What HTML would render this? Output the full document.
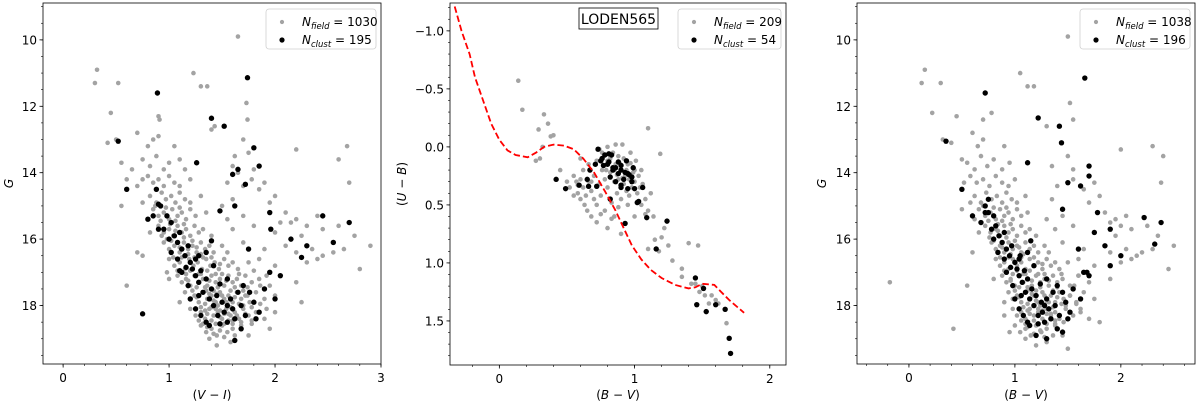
<!DOCTYPE html>
<html><head><meta charset="utf-8"><style>
body{margin:0;background:#fff;}
svg{display:block;font-family:"DejaVu Sans","Liberation Sans",sans-serif;}
</style></head><body>
<svg id="fig" width="1200" height="404" viewBox="0 0 1200 404"></svg>
<script>
// ---------- Panel 1 data: (V-I, G) ----------
const p1Field = [[0.3,11.3],[0.32,10.9],[0.52,11.3],[0.45,12.2],[0.9,12.3],[0.91,12.4],[1.23,11.0],[1.3,11.4],[1.36,11.4],[1.65,9.9],[1.73,11.9],[1.74,12.4],[1.4,12.7],[1.43,12.6],[0.42,13.1],[0.5,13.0],[0.55,13.7],[0.7,12.8],[0.8,13.2],[0.85,13.0],[0.9,12.9],[1.05,13.2],[1.7,13.0],[1.75,13.4],[2.2,13.3],[2.68,13.2],[2.6,13.6],[2.7,14.3],[0.6,14.2],
[0.75,13.6],[0.82,13.8],[0.88,13.5],[0.95,13.9],[1.0,13.7],[1.1,13.6],[1.15,13.9],[0.65,13.9],[1.6,13.8],[1.62,13.5],[1.8,13.9],[1.65,14.0],
[0.8,14.1],[0.85,14.3],[0.9,14.2],[0.95,14.4],[1.0,14.1],[1.05,14.3],[1.1,14.4],[0.7,14.4],[0.75,14.2],[1.2,14.2],[1.55,14.3],[1.7,14.4],[1.85,14.5],[1.9,14.3],[1.78,14.2],
[0.82,14.7],[0.88,14.9],[0.93,14.6],[0.97,14.8],[1.02,14.7],[1.06,14.9],[1.1,14.6],[1.15,14.8],[1.2,14.9],[0.75,14.9],[1.3,14.7],[1.6,14.8],[1.95,14.9],[2.0,14.7],[1.5,15.0],
[0.85,15.1],[0.9,15.3],[0.95,15.2],[1.0,15.4],[1.03,15.1],[1.08,15.3],[1.12,15.2],[1.16,15.4],[1.2,15.1],[1.25,15.3],[0.8,15.4],[1.35,15.2],[1.55,15.4],[1.7,15.3],[2.1,15.2],[2.15,15.5],[2.2,15.4],[2.05,15.5],[2.4,15.3],
[0.9,15.6],[0.95,15.8],[1.0,15.7],[1.04,15.9],[1.08,15.6],[1.12,15.8],[1.16,15.7],[1.2,15.9],[1.24,15.6],[1.28,15.8],[1.32,15.7],[1.4,15.9],[0.82,15.8],[1.6,15.7],[1.8,15.6],[2.0,15.8],[2.25,15.9],[2.3,15.6],[2.45,15.7],[2.6,15.6],[2.75,15.9],
[0.95,16.1],[1.0,16.3],[1.05,16.2],[1.1,16.4],[1.14,16.1],[1.18,16.3],[1.22,16.2],[1.26,16.4],[1.3,16.1],[1.34,16.3],[1.38,16.2],[1.42,16.4],[1.5,16.2],[1.55,16.4],[0.7,16.4],[1.7,16.1],[1.9,16.3],[2.1,16.2],[2.2,16.4],[2.35,16.3],[2.45,16.5],[2.55,16.4],[2.65,16.3],[2.9,16.2],
[1.0,16.6],[1.05,16.8],[1.1,16.7],[1.15,16.9],[1.19,16.6],[1.23,16.8],[1.27,16.7],[1.31,16.9],[1.35,16.6],[1.39,16.8],[1.43,16.7],[1.47,16.9],[1.52,16.6],[1.56,16.8],[1.6,16.7],[1.65,16.9],[1.75,16.7],[1.85,16.6],[2.0,16.8],[2.3,16.7],[2.4,16.6],[2.8,16.9],
[1.08,17.1],[1.12,17.3],[1.16,17.2],[1.2,17.4],[1.24,17.1],[1.28,17.3],[1.32,17.2],[1.36,17.4],[1.4,17.1],[1.44,17.3],[1.48,17.2],[1.52,17.4],[1.56,17.1],[1.6,17.3],[1.64,17.2],[1.68,17.4],[1.72,17.1],[1.78,17.3],[1.85,17.2],[1.95,17.4],[2.05,17.1],[2.2,17.3],[1.0,17.2],
[1.15,17.6],[1.2,17.8],[1.24,17.7],[1.28,17.9],[1.32,17.6],[1.36,17.8],[1.4,17.7],[1.44,17.9],[1.48,17.6],[1.52,17.8],[1.56,17.7],[1.6,17.9],[1.64,17.6],[1.68,17.8],[1.72,17.7],[1.76,17.9],[1.82,17.6],[1.9,17.8],[2.0,17.7],[1.1,17.9],[1.35,17.55],[1.45,17.65],[1.55,17.95],
[1.2,18.1],[1.25,18.3],[1.3,18.2],[1.34,18.4],[1.38,18.1],[1.42,18.3],[1.46,18.2],[1.5,18.4],[1.54,18.1],[1.58,18.3],[1.62,18.2],[1.66,18.4],[1.7,18.1],[1.75,18.3],[1.82,18.2],[1.9,18.4],[2.25,17.9],[2.0,18.2],[1.4,18.05],[1.48,18.35],[1.56,18.45],
[1.3,18.6],[1.35,18.8],[1.4,18.7],[1.45,18.9],[1.5,18.6],[1.55,18.8],[1.6,18.7],[1.68,18.6],[1.38,19.0],[1.45,19.2],[1.58,19.1],[1.75,18.9],[1.95,18.7],[1.78,18.55],
[0.6,17.4],[0.75,16.5],[0.98,17.0],[0.55,15.0],
[0.87,15.0],[0.92,15.45],[0.97,15.05],[1.01,15.55],[1.06,15.45],[1.1,15.05],[1.14,15.55],[0.93,15.9],[0.98,16.0],[1.02,16.05],[1.06,15.75],[1.1,16.25],[1.14,15.95],[1.18,16.45],[1.22,16.05],[1.26,16.25],[1.3,16.45],[1.04,16.55],[1.08,16.95],[1.12,16.55],[1.16,17.05],[1.2,16.95],[1.24,16.55],[1.28,17.05],[1.32,16.55],[1.36,16.95],[1.4,16.55],[1.44,17.05],[1.48,16.75],
[1.18,17.25],[1.22,17.55],[1.26,17.45],[1.3,17.05],[1.34,17.45],[1.38,17.25],[1.42,17.55],[1.46,17.45],[1.5,17.05],[1.54,17.25],[1.58,17.55],[1.62,17.45],[1.66,17.05],[1.7,17.55],[1.74,17.45],[1.26,17.75],[1.3,18.05],[1.34,17.95],[1.38,17.65],[1.42,17.85],[1.46,18.0],[1.5,17.7],[1.54,17.9],[1.58,18.05],[1.62,17.75],[1.66,17.95],[1.7,18.0],[1.74,17.7],[1.78,18.05],
[1.28,18.45],[1.32,18.55],[1.36,18.25],[1.4,18.45],[1.44,18.55],[1.48,18.15],[1.52,18.55],[1.56,18.25],[1.6,18.55],[1.64,18.3],[1.68,18.5],[1.72,18.25],[1.78,18.45],[1.36,18.65],[1.42,18.85],[1.48,18.75],[1.52,18.95],[1.62,18.9],[1.34,18.15],[1.44,18.1],[1.52,18.25],[1.6,18.45],[1.86,17.95],[1.92,18.1],[1.86,17.4],[1.92,17.1],[1.8,16.95]];
const p1Clust = [[0.89,11.6],[1.74,11.14],[1.40,12.36],[1.52,12.6],[0.52,13.05],[1.26,13.7],[0.6,14.5],[0.85,15.3],[0.88,14.5],[1.72,14.35],[1.6,14.05],[1.85,13.8],[1.8,13.25],[1.65,13.9],[1.95,15.2],[2.45,15.3],[2.7,15.5],[2.55,16.1],[2.15,16.0],[2.3,16.2],[2.25,16.55],[1.96,15.7],[0.75,18.25],[1.62,15.0],[1.48,15.15],[1.75,16.3],
[0.9,14.95],[0.92,15.0],[0.98,15.3],[1.02,15.5],[1.05,15.9],[1.0,16.0],[1.08,16.1],[1.1,15.8],[1.12,16.3],[1.15,16.5],[1.18,16.2],[1.2,16.7],[1.22,16.9],[1.25,16.6],[1.25,17.1],[1.28,17.3],[1.3,16.95],[1.32,17.6],[1.35,17.2],[1.38,17.8],[1.4,17.5],[1.42,18.0],[1.45,17.7],[1.46,18.3],[1.5,17.9],[1.52,18.2],[1.55,18.5],[1.58,17.8],[1.6,18.1],[1.62,18.4],[1.65,17.6],[1.68,18.0],[1.7,17.4],[1.72,18.3],[1.76,17.6],[1.8,17.9],[1.85,18.2],[1.3,18.3],[1.35,18.5],[1.25,18.1],[1.2,17.8],[1.18,17.4],[1.38,18.6],[1.48,18.55],[1.55,18.0],[1.62,19.05],[1.68,18.7],[1.16,16.85],[1.08,16.6],[1.02,16.4],[0.95,15.7],[1.35,16.4],[1.42,16.8],[1.55,17.2],[1.9,17.5],[2.0,17.8],[1.82,18.4],[1.28,16.5],[1.4,16.05],[1.12,17.0],[1.28,17.7],[1.48,17.35],[1.95,17.0],[2.05,17.1],[1.1,16.95],[0.8,15.4],[0.9,15.7]];

// ---------- Panel 2 data: (B-V, U-B) ----------
const p2Field = [[0.14,-0.57],[0.17,-0.32],[0.33,-0.28],[0.36,-0.2],[0.29,-0.15],[0.38,-0.09],[0.32,0.0],[0.3,0.1],[1.1,-0.16],[1.19,0.06],[0.91,-0.02],[0.4,-0.1],[0.27,0.12],
[0.55,0.25],[0.57,0.3],[0.6,0.28],[0.62,0.35],[0.58,0.4],[0.6,0.45],[0.63,0.5],[0.66,0.3],[0.68,0.38],[0.7,0.25],[0.7,0.45],[0.72,0.5],[0.74,0.32],[0.75,0.42],[0.76,0.2],[0.78,0.28],[0.78,0.55],[0.8,0.35],[0.8,0.12],[0.82,0.22],[0.83,0.48],[0.84,0.05],[0.85,0.3],[0.86,0.15],[0.87,0.4],[0.88,0.08],[0.88,0.28],[0.9,0.2],[0.9,0.45],[0.92,0.1],[0.92,0.32],[0.93,0.25],[0.94,0.38],[0.95,0.15],[0.96,0.28],[0.97,0.05],[0.98,0.35],[0.99,0.22],[1.0,0.3],[1.01,0.12],[1.02,0.4],[1.03,0.25],[1.05,0.2],[1.06,0.32],[1.08,0.45],[1.1,0.55],[1.12,0.4],[1.14,0.6],[0.65,0.55],[0.68,0.6],[0.72,0.65],[0.75,0.58],[0.8,0.7],[0.85,0.6],[0.9,0.75],[0.95,0.5],[1.0,0.6],[0.52,0.35],[0.55,0.42],[0.5,0.3],[0.62,0.2],[0.66,0.15],[0.72,0.12],[0.76,0.05],[0.74,0.02],[0.8,0.0],[0.86,-0.02],[0.83,0.62],[0.88,0.52],[1.05,0.5],[1.08,0.58],
[1.15,0.8],[1.2,0.78],[1.18,0.9],[1.1,0.88],[1.28,0.98],[1.35,1.05],[1.4,0.83],[1.47,0.85],[1.35,1.12],[1.42,1.18],[1.48,1.25],[1.52,1.28],[1.57,1.28],[1.6,1.32],[1.5,1.2],[1.45,1.18],[1.55,1.35],[1.62,1.35],[1.68,1.52],[0.45,0.2],[0.6,0.1],[1.22,0.7],[1.25,0.85],
[0.82,0.1],[0.85,0.2],[0.89,0.14],[0.91,0.27],[0.94,0.2],[0.97,0.14],[1.0,0.2],[0.87,0.24],[0.79,0.2],[0.96,0.42],[1.04,0.35],[0.68,0.3],[0.64,0.42],[0.58,0.33]];
const p2Clust = [[0.42,0.28],[0.49,0.36],[0.59,0.33],[0.65,0.28],[0.66,0.34],[0.67,0.2],[0.72,0.34],[0.71,0.15],[0.75,0.12],[0.73,0.02],[0.78,0.07],[0.81,0.06],[0.83,0.07],[0.81,0.13],[0.84,0.18],[0.86,0.18],[0.88,0.23],[0.9,0.16],[0.9,0.2],[0.92,0.28],[0.93,0.22],[0.95,0.23],[0.9,0.35],[0.95,0.36],[0.99,0.18],[0.98,0.26],[1.06,0.35],[1.02,0.48],[1.03,0.47],[1.09,0.61],[0.93,0.66],[0.82,0.45],[1.24,0.64],[1.16,0.88],[1.45,1.13],[1.51,1.22],[1.46,1.36],[1.53,1.42],[1.6,1.36],[1.67,1.4],[1.7,1.65],[1.71,1.78],
[0.76,0.1],[0.84,0.2],[0.98,0.3],[0.86,0.3],[0.94,0.12],[0.8,0.15],[0.9,0.33],[0.96,0.24],[0.88,0.13],[1.0,0.36],[0.82,0.26],[0.77,0.16]];
const p2CurveBV = [-0.33,-0.28,-0.22,-0.18,-0.12,-0.06,0.0,0.06,0.12,0.21,0.27,0.33,0.4,0.48,0.55,0.62,0.7,0.78,0.86,0.92,0.98,1.05,1.12,1.2,1.3,1.4,1.45,1.5,1.59,1.64,1.7,1.76,1.81];
const p2CurveUB = [-1.21,-1.0,-0.8,-0.6,-0.4,-0.2,-0.06,0.03,0.07,0.09,0.05,0.0,-0.02,-0.01,0.02,0.1,0.22,0.38,0.55,0.7,0.85,0.97,1.06,1.13,1.19,1.22,1.21,1.18,1.19,1.25,1.32,1.38,1.43];

// ---------- Panel 3 data: (B-V, G) ----------
const p3Field = [[-0.18,17.3],[0.15,10.9],[0.12,11.3],[0.3,11.3],[0.22,12.2],[0.32,13.0],[0.4,13.1],[0.45,12.3],[0.6,12.8],[0.7,12.4],[0.78,12.2],[1.05,11.0],[1.12,11.4],[1.18,11.4],[1.5,9.9],[1.52,11.9],[1.55,12.4],[1.3,12.6],[0.5,13.6],[0.65,13.2],[0.7,13.0],[0.9,13.2],[2.0,13.3],[2.3,13.2],[2.4,13.5],[2.38,14.3],[0.42,18.7],[0.55,17.4],[0.5,15.1],[0.6,16.4],
[0.55,13.7],[0.62,13.9],[0.68,13.5],[0.74,13.8],[0.8,13.6],[0.88,13.9],[0.95,13.7],[1.35,13.8],[1.55,13.9],[1.5,13.5],
[0.58,14.1],[0.64,14.3],[0.7,14.2],[0.76,14.4],[0.82,14.1],[0.88,14.3],[0.94,14.4],[0.52,14.3],[1.0,14.2],[1.4,14.4],[1.55,14.2],[1.65,14.5],[1.75,14.3],
[0.62,14.7],[0.68,14.9],[0.73,14.6],[0.78,14.8],[0.83,14.7],[0.88,14.9],[0.92,14.6],[0.97,14.8],[1.02,14.9],[0.58,14.9],[1.1,14.7],[1.35,14.8],[1.7,14.9],[1.8,14.7],
[0.66,15.1],[0.72,15.3],[0.77,15.2],[0.82,15.4],[0.86,15.1],[0.9,15.3],[0.94,15.2],[0.98,15.4],[1.02,15.1],[1.06,15.3],[0.62,15.4],[1.12,15.2],[1.3,15.4],[1.45,15.3],[1.85,15.2],[1.9,15.5],[1.95,15.4],[2.05,15.3],
[0.72,15.6],[0.77,15.8],[0.82,15.7],[0.86,15.9],[0.9,15.6],[0.94,15.8],[0.98,15.7],[1.02,15.9],[1.06,15.6],[1.1,15.8],[1.14,15.7],[1.2,15.9],[0.66,15.8],[1.38,15.7],[1.55,15.6],[1.75,15.8],[1.95,15.9],[2.0,15.6],[2.1,15.7],[2.25,15.6],[2.35,15.9],
[0.78,16.1],[0.82,16.3],[0.86,16.2],[0.9,16.4],[0.94,16.1],[0.98,16.3],[1.02,16.2],[1.06,16.4],[1.1,16.1],[1.14,16.3],[1.18,16.2],[1.22,16.4],[1.28,16.2],[1.32,16.4],[1.45,16.1],[1.65,16.3],[1.85,16.2],[1.9,16.4],[2.05,16.3],[2.15,16.5],[2.2,16.4],[2.3,16.3],[2.5,16.2],
[0.82,16.6],[0.86,16.8],[0.9,16.7],[0.94,16.9],[0.98,16.6],[1.02,16.8],[1.06,16.7],[1.1,16.9],[1.14,16.6],[1.18,16.8],[1.22,16.7],[1.26,16.9],[1.3,16.6],[1.34,16.8],[1.38,16.7],[1.42,16.9],[1.5,16.7],[1.6,16.6],[1.75,16.8],[2.0,16.7],[2.1,16.6],[2.45,16.9],
[0.88,17.1],[0.92,17.3],[0.96,17.2],[1.0,17.4],[1.04,17.1],[1.08,17.3],[1.12,17.2],[1.16,17.4],[1.2,17.1],[1.24,17.3],[1.28,17.2],[1.32,17.4],[1.36,17.1],[1.4,17.3],[1.45,17.2],[1.52,17.4],[1.6,17.1],[1.7,17.3],[1.9,17.2],[0.8,17.2],
[0.94,17.6],[0.98,17.8],[1.02,17.7],[1.06,17.9],[1.1,17.6],[1.14,17.8],[1.18,17.7],[1.22,17.9],[1.26,17.6],[1.3,17.8],[1.34,17.7],[1.38,17.9],[1.42,17.6],[1.46,17.8],[1.52,17.7],[1.58,17.9],[1.65,17.6],[1.75,17.8],[0.9,17.9],[1.12,17.55],[1.28,17.95],
[0.98,18.1],[1.02,18.3],[1.06,18.2],[1.1,18.4],[1.14,18.1],[1.18,18.3],[1.22,18.2],[1.26,18.4],[1.3,18.1],[1.34,18.3],[1.38,18.2],[1.42,18.4],[1.48,18.1],[1.55,18.3],[1.62,18.2],[1.7,18.4],[1.8,18.5],[0.9,18.3],
[1.0,18.6],[1.05,18.8],[1.1,18.7],[1.15,18.9],[1.2,18.6],[1.25,18.8],[1.3,18.7],[1.38,18.6],[1.1,19.0],[1.2,19.2],[1.3,19.1],[1.45,18.9],[0.95,18.8],[1.5,19.3],
[0.7,15.0],[0.75,15.45],[0.8,15.05],[0.84,15.55],[0.88,15.45],[0.92,15.05],[0.96,15.55],[0.76,15.95],[0.8,16.05],[0.84,15.75],[0.88,16.25],[0.92,15.95],[0.96,16.45],[1.0,16.05],[1.04,16.25],[1.08,16.45],[0.86,16.55],[0.9,16.95],[0.94,16.55],[0.98,17.05],[1.02,16.95],[1.06,16.55],[1.1,17.05],[1.14,16.95],[1.18,16.55],[1.22,17.05],[1.26,16.75],
[0.96,17.25],[1.0,17.55],[1.04,17.45],[1.08,17.05],[1.12,17.45],[1.16,17.25],[1.2,17.55],[1.24,17.45],[1.28,17.05],[1.32,17.25],[1.36,17.55],[1.4,17.45],[1.44,17.05],[1.04,17.75],[1.08,18.05],[1.12,17.95],[1.16,17.65],[1.2,17.85],[1.24,18.0],[1.28,17.7],[1.32,17.9],[1.36,18.05],[1.4,17.75],[1.44,17.95],[1.48,18.0],[1.52,17.7],
[1.06,18.45],[1.1,18.55],[1.14,18.25],[1.18,18.45],[1.22,18.55],[1.26,18.15],[1.3,18.55],[1.34,18.25],[1.38,18.55],[1.42,18.3],[1.46,18.5],[1.12,18.65],[1.18,18.85],[1.24,18.75],[1.28,18.95],[1.36,18.9],[1.12,18.15],[1.22,18.1],[1.3,18.25],[1.38,18.45],[1.58,17.95],[1.62,18.1],[1.56,17.4],[1.6,17.1]];
const p3Clust = [[0.72,11.6],[1.22,12.35],[1.42,12.6],[1.66,11.15],[0.35,13.05],[1.12,13.7],[1.44,13.1],[1.7,13.8],[1.5,14.3],[1.45,15.1],[1.62,14.4],[1.7,14.1],[2.22,15.35],[2.38,15.5],[2.32,16.15],[2.0,16.5],[1.9,15.7],[1.78,15.2],[1.6,16.3],[1.68,17.0],[1.9,16.8],
[0.72,15.0],[0.75,15.2],[0.8,15.3],[0.82,15.6],[0.85,15.9],[0.8,16.0],[0.88,16.1],[0.9,15.8],[0.92,16.3],[0.95,16.5],[0.97,16.2],[1.0,16.7],[1.02,16.9],[1.04,16.6],[1.04,17.1],[1.07,17.3],[1.09,16.95],[1.1,17.6],[1.12,17.2],[1.14,17.8],[1.16,17.5],[1.18,18.0],[1.2,17.7],[1.22,18.3],[1.25,17.9],[1.26,18.2],[1.28,18.5],[1.3,17.8],[1.32,18.1],[1.34,18.4],[1.36,17.6],[1.38,18.0],[1.4,17.4],[1.42,18.3],[1.45,17.6],[1.48,17.9],[1.52,18.2],[1.08,18.3],[1.12,18.5],[1.04,18.1],[1.0,17.8],[0.98,17.4],[1.14,18.6],[1.22,18.55],[1.28,18.0],[1.3,19.0],[1.4,18.7],[0.96,16.85],[0.9,16.6],[0.84,16.4],[0.78,15.7],[1.12,16.4],[1.18,16.8],[1.3,17.2],[1.55,17.5],[1.62,17.8],[1.5,18.4],[1.05,16.5],[1.15,16.05],[0.92,17.0],[1.06,17.7],[1.24,17.35],[1.65,17.0],[1.7,17.1],[0.6,15.3],[0.68,15.5],[0.5,14.5],[0.72,15.2],[0.75,14.8],[1.75,15.8],[1.85,16.2],[1.2,18.9],[1.45,18.8]];

const p1Legend = ["1030","195"], p2Legend = ["209","54"], p3Legend = ["1038","196"];
const cmdYTicks = [10,12,14,16,18];
const p1XTicks = [0,1,2,3];
const p2XTicks = [0,1,2];
const p2YTicks = [-1.0,-0.5,0.0,0.5,1.0,1.5];
const p3XTicks = [0,1,2];

const NS = "http://www.w3.org/2000/svg";
const svg = document.getElementById("fig");
function mk(tag, attrs, parent){
  const e = document.createElementNS(NS, tag);
  for (const k in attrs) e.setAttribute(k, attrs[k]);
  (parent||svg).appendChild(e);
  return e;
}

function panel(o){
  const g = mk("g", {});
  
  
  const sx = v => o.L + (v - o.x0) / (o.x1 - o.x0) * (o.R - o.L);
  const sy = v => o.T + (v - o.y0) / (o.y1 - o.y0) * (o.B - o.T);
  for (let v = Math.ceil(o.x0 / o.xm) * o.xm; v <= o.x1 + 1e-9; v += o.xm) {
    const t = mk("line", {x1:sx(v), x2:sx(v), y1:o.B, y2:o.B+2, stroke:"#000", "stroke-width":0.6}, g);
    
    
  }
  for (let v = Math.ceil(Math.min(o.y0,o.y1) / o.ym) * o.ym; v <= Math.max(o.y0,o.y1) + 1e-9; v += o.ym) {
    const t = mk("line", {x1:o.L-2, x2:o.L, y1:sy(v), y2:sy(v), stroke:"#000", "stroke-width":0.6}, g);
    
    
  }
  o.xt.forEach(v => {
    const t = mk("line", {x1:sx(v), x2:sx(v), y1:o.B, y2:o.B+3.5, stroke:"#000", "stroke-width":0.8}, g);
    
    
    const l = mk("text", {x:sx(v), y:o.B+18, "font-size":12, "text-anchor":"middle", fill:"#000"}, g);
    l.textContent = String(v);
    
    
  });
  o.yt.forEach(v => {
    const t = mk("line", {x1:o.L-3.5, x2:o.L, y1:sy(v), y2:sy(v), stroke:"#000", "stroke-width":0.8}, g);
    
    
    const l = mk("text", {x:o.L-6, y:sy(v)+4.5, "font-size":12, "text-anchor":"end", fill:"#000"}, g);
    l.textContent = o.yfmt ? o.yfmt(v) : String(v);
    
    
  });
  const clip = "clip-" + o.name;
  const cp = mk("clipPath", {id:clip}, g);
  mk("rect", {x:o.L, y:o.T, width:o.R-o.L, height:o.B-o.T}, cp);
  const pg = mk("g", {"clip-path":"url(#"+clip+")"}, g);
  o.field.forEach(p => {
    const c = mk("circle", {cx:sx(p[0]), cy:sy(p[1]), r:2.3, fill:"#a3a3a3"}, pg);
    
    
  });
  o.clust.forEach(p => {
    const c = mk("circle", {cx:sx(p[0]), cy:sy(p[1]), r:2.7, fill:"#000"}, pg);
    
    
  });
  if (o.curveX) {
    const d = o.curveX.map((x,i) => (i?"L":"M") + sx(x).toFixed(1) + " " + sy(o.curveY[i]).toFixed(1)).join(" ");
    const pth = mk("path", {d:d, fill:"none", stroke:"#ff0000", "stroke-width":1.8, "stroke-dasharray":"6.5,3"}, pg);
    
    
  }
  const fr = mk("rect", {x:o.L, y:o.T, width:o.R-o.L, height:o.B-o.T, fill:"none", stroke:"#000", "stroke-width":0.8}, g);
  
  
  const xl = mk("text", {x:(o.L+o.R)/2, y:399, "font-size":12, "text-anchor":"middle"}, g);
  xl.innerHTML = o.xlab;
  
  
  const yl = mk("text", {x:0, y:0, "font-size":12, "text-anchor":"middle", transform:"translate("+o.ylx+","+((o.T+o.B)/2)+") rotate(-90)"}, g);
  yl.innerHTML = o.ylab;
  
  
  const lw = o.lw, lx = o.R - lw - 5, ly = o.T + 6;
  const lg = mk("g", {}, g);
  
  
  mk("rect", {x:lx, y:ly, width:lw, height:40, rx:3, fill:"#fff", "fill-opacity":0.85, stroke:"#d0d0d0", "stroke-width":0.8}, lg);
  const e1 = mk("circle", {cx:lx+16, cy:ly+13, r:2.1, fill:"#a3a3a3"}, lg);
  
  
  const e2 = mk("circle", {cx:lx+16, cy:ly+31, r:2.6, fill:"#000"}, lg);
  
  
  const t1 = mk("text", {x:lx+36, y:ly+17, "font-size":12}, lg);
  t1.innerHTML = '<tspan font-style="italic">N</tspan><tspan font-style="italic" font-size="8.5" dy="3">field</tspan><tspan dy="-3"> = ' + o.leg[0] + '</tspan>';
  
  
  const t2 = mk("text", {x:lx+36, y:ly+35, "font-size":12}, lg);
  t2.innerHTML = '<tspan font-style="italic">N</tspan><tspan font-style="italic" font-size="8.5" dy="3">clust</tspan><tspan dy="-3"> = ' + o.leg[1] + '</tspan>';
  
  
  return {g, sx, sy};
}

panel({name:"panel-vi-g", L:43, R:381, T:3, B:364, x0:-0.19, x1:3.0, y0:8.89, y1:19.76,
  xt:p1XTicks, yt:cmdYTicks, xm:0.2, ym:0.5, field:p1Field, clust:p1Clust,
  xlab:'(<tspan font-style="italic">V</tspan> − <tspan font-style="italic">I</tspan>)', ylab:'<tspan font-style="italic">G</tspan>', ylx:13, lw:110, leg:p1Legend});

panel({name:"panel-bv-ub", L:450, R:786, T:3, B:365, x0:-0.365, x1:2.12, y0:-1.24, y1:1.88,
  xt:p2XTicks, yt:p2YTicks, xm:0.2, ym:0.1, field:p2Field, clust:p2Clust, curveX:p2CurveBV, curveY:p2CurveUB,
  yfmt:v => v.toFixed(1).replace("-", "−"),
  xlab:'(<tspan font-style="italic">B</tspan> − <tspan font-style="italic">V</tspan>)', ylab:'(<tspan font-style="italic">U</tspan> − <tspan font-style="italic">B</tspan>)', ylx:406, lw:103, leg:p2Legend});
const tb = mk("g", {});


mk("rect", {x:579, y:8, width:79, height:21, fill:"#fff", stroke:"#000", "stroke-width":0.8}, tb);
const tt = mk("text", {x:618.5, y:24, "font-size":14, "text-anchor":"middle"}, tb);
tt.textContent = "LODEN565";



panel({name:"panel-bv-g", L:857, R:1195, T:3, B:364, x0:-0.49, x1:2.7, y0:8.89, y1:19.76,
  xt:p3XTicks, yt:cmdYTicks, xm:0.2, ym:0.5, field:p3Field, clust:p3Clust,
  xlab:'(<tspan font-style="italic">B</tspan> − <tspan font-style="italic">V</tspan>)', ylab:'<tspan font-style="italic">G</tspan>', ylx:826, lw:110, leg:p3Legend});
</script>
</body></html>
